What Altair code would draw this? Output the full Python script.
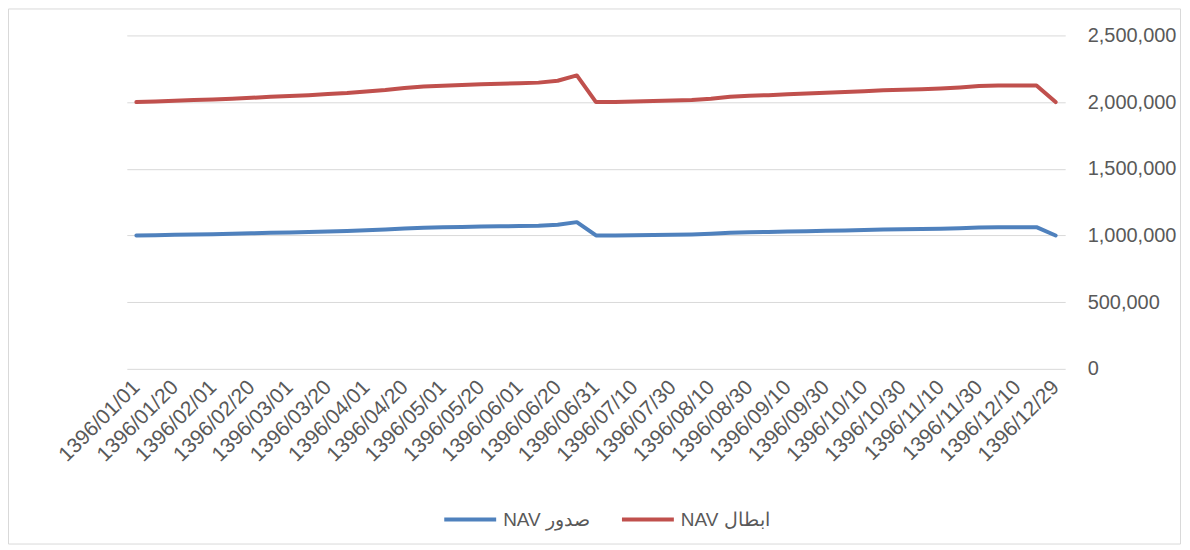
import altair as alt
import pandas as pd

# Category labels (Persian calendar dates), one per data point
dates = [
    "1396/01/01", "1396/01/10", "1396/01/20", "1396/01/31",
    "1396/02/01", "1396/02/10", "1396/02/20", "1396/02/31",
    "1396/03/01", "1396/03/10", "1396/03/20", "1396/03/31",
    "1396/04/01", "1396/04/10", "1396/04/20", "1396/04/31",
    "1396/05/01", "1396/05/10", "1396/05/20", "1396/05/31",
    "1396/06/01", "1396/06/10", "1396/06/20", "1396/06/30", "1396/06/31",
    "1396/07/01", "1396/07/10", "1396/07/20", "1396/07/30",
    "1396/08/01", "1396/08/10", "1396/08/20", "1396/08/30",
    "1396/09/01", "1396/09/10", "1396/09/20", "1396/09/30",
    "1396/10/01", "1396/10/10", "1396/10/20", "1396/10/30",
    "1396/11/01", "1396/11/10", "1396/11/20", "1396/11/30",
    "1396/12/01", "1396/12/10", "1396/12/20", "1396/12/29",
]

# Tick labels shown on the x axis (every other category)
shown_labels = [
    "1396/01/01", "1396/01/20", "1396/02/01", "1396/02/20", "1396/03/01",
    "1396/03/20", "1396/04/01", "1396/04/20", "1396/05/01", "1396/05/20",
    "1396/06/01", "1396/06/20", "1396/06/31", "1396/07/10", "1396/07/30",
    "1396/08/10", "1396/08/30", "1396/09/10", "1396/09/30", "1396/10/10",
    "1396/10/30", "1396/11/10", "1396/11/30", "1396/12/10", "1396/12/29",
]

# Redemption NAV (red series)
nav_redeem = [
    2000000, 2005000, 2010000, 2015000, 2020000, 2025000, 2032000, 2040000,
    2046000, 2052000, 2060000, 2068000, 2080000, 2090000, 2105000, 2117000,
    2122000, 2128000, 2133000, 2138000, 2142000, 2146000, 2160000, 2200000,
    2000000, 2000000, 2005000, 2008000, 2012000, 2016000, 2025000, 2040000,
    2048000, 2052000, 2058000, 2065000, 2070000, 2076000, 2082000, 2088000,
    2092000, 2096000, 2102000, 2110000, 2120000, 2125000, 2125000, 2125000,
    2000000,
]

# Issue NAV (blue series)
nav_issue = [
    1000000, 1002500, 1005000, 1007500, 1010000, 1012500, 1016000, 1020000,
    1023000, 1026000, 1030000, 1034000, 1040000, 1045000, 1052500, 1058500,
    1061000, 1064000, 1066500, 1069000, 1071000, 1073000, 1080000, 1100000,
    1000000, 1000000, 1002500, 1004000, 1006000, 1008000, 1012500, 1020000,
    1024000, 1026000, 1029000, 1032500, 1035000, 1038000, 1041000, 1044000,
    1046000, 1048000, 1051000, 1055000, 1060000, 1062500, 1062500, 1062500,
    1000000,
]

series_names = ["NAV صدور", "NAV ابطال"]
series_colors = ["#4F81BD", "#C0504D"]
y_ticks = [0, 500000, 1000000, 1500000, 2000000, 2500000]

rows = []
for i, d in enumerate(dates):
    rows.append({"date": d, "value": nav_issue[i], "series": series_names[0], "order": i})
    rows.append({"date": d, "value": nav_redeem[i], "series": series_names[1], "order": i})
df = pd.DataFrame(rows)

W, H = 940, 334
FONT = "Liberation Sans"
GREY = "#595959"

lines = alt.Chart(df).mark_line(strokeWidth=4, strokeCap="round", strokeJoin="round").encode(
    x=alt.X(
        "date:N",
        sort=dates,
        scale=alt.Scale(type="point", padding=0.5),
        axis=alt.Axis(
            title=None,
            values=shown_labels,
            labelAngle=315,
            labelAlign="right",
            labelBaseline="middle",
            labelPadding=15,
            labelFontSize=21,
            labelFont=FONT,
            labelColor=GREY,
            ticks=False,
            domain=False,
            grid=False,
            labelOverlap=False,
        ),
    ),
    y=alt.Y(
        "value:Q",
        scale=alt.Scale(domain=[0, 2500000], nice=False),
        axis=alt.Axis(
            title=None,
            orient="right",
            values=y_ticks,
            format=",d",
            labelFontSize=20,
            labelFont=FONT,
            labelColor=GREY,
            labelPadding=22,
            labelAlign="left",
            ticks=False,
            domain=False,
            grid=True,
            gridColor="#D9D9D9",
            gridWidth=1,
        ),
    ),
    color=alt.Color(
        "series:N",
        scale=alt.Scale(domain=series_names, range=series_colors),
        legend=alt.Legend(
            title=None,
            orient="none",
            legendX=316,
            legendY=457,
            direction="horizontal",
            symbolType="stroke",
            symbolSize=2704,
            symbolStrokeWidth=4,
            labelFontSize=19,
            labelFont=FONT,
            labelColor=GREY,
            labelOffset=5,
            columnPadding=24,
        ),
    ),
    detail="series:N",
    order="order:Q",
)

frame = alt.Chart(alt.Data(values=[{"k": 1}])).mark_rect(
    fill="transparent", stroke="#D9D9D9", strokeWidth=1
).encode(
    x=alt.value(-118.5),
    x2=alt.value(W + 115.5),
    y=alt.value(-26.5),
    y2=alt.value(H + 175.5),
)

chart = alt.layer(frame, lines).properties(
    width=W,
    height=H,
    autosize=alt.AutoSizeParams(type="none"),
    padding={"left": 119, "top": 27, "right": 117, "bottom": 177},
    background="white",
).configure_view(stroke=None)

chart.save("out.html", embed_options={"renderer": "svg", "actions": False})
